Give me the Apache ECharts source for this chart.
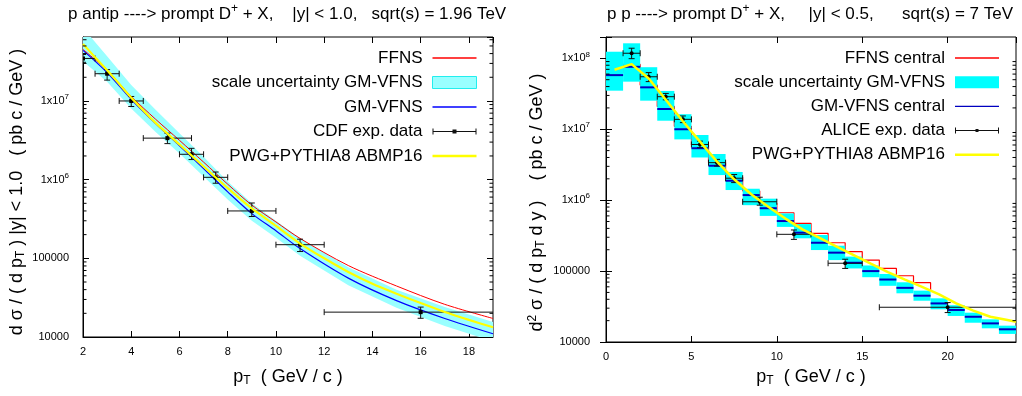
<!DOCTYPE html>
<html><head><meta charset="utf-8">
<script src="https://cdn.jsdelivr.net/npm/echarts@6.0.0/dist/echarts.min.js"></script>
<style>html,body{margin:0;padding:0;background:#fff}#c{width:1022px;height:396px}</style>
</head><body><div id="c"></div>
<script>
// ---------------- LEFT PANEL DATA (Tevatron, CDF) ----------------
const L_pt       = [2, 3, 4, 5, 6, 7, 8, 9, 10, 11, 13, 15, 17, 19];
const L_ffns     = [4.53e7, 2.44e7, 1.14e7, 5.9e6, 3.16e6, 1.67e6, 8.75e5, 4.75e5, 2.9e5, 1.79e5, 8.1e4, 4.45e4, 2.6e4, 1.72e4];
const L_gmvfns   = [4.4e7, 2.3e7, 1.05e7, 5.2e6, 2.7e6, 1.38e6, 7.0e5, 3.7e5, 2.24e5, 1.33e5, 5.6e4, 2.9e4, 1.72e4, 1.1e4];
const L_bandHi   = [8.5e7, 3.7e7, 1.6e7, 7.8e6, 3.9e6, 1.95e6, 9.5e5, 5.0e5, 3.0e5, 1.8e5, 7.7e4, 4.0e4, 2.4e4, 1.55e4];
const L_bandLo   = [3.2e7, 1.75e7, 8.0e6, 4.05e6, 2.15e6, 1.1e6, 5.6e5, 3.0e5, 1.82e5, 1.08e5, 4.55e4, 2.35e4, 1.38e4, 8.8e3];
const L_pwgPt    = [2, 2.5, 3, 3.5, 4, 5, 6, 7, 8, 9, 10, 11, 12, 13, 14, 15, 16, 17, 18, 19];
const L_pwg      = [5.3e7, 3.6e7, 2.45e7, 1.65e7, 1.1e7, 5.3e6, 2.8e6, 1.47e6, 7.8e5, 4.3e5, 2.58e5, 1.54e5, 1.0e5, 6.7e4, 4.75e4, 3.55e4, 2.7e4, 2.08e4, 1.65e4, 1.33e4];
const L_cdfPt    = [2, 3, 4, 5.5, 6.5, 7.5, 9, 11, 16];
const L_cdfVal   = [3.47e7, 2.22e7, 1.0e7, 3.37e6, 2.1e6, 1.07e6, 4.0e5, 1.49e5, 2.07e4];
const L_cdfXlo   = [1.5, 2.5, 3.5, 4.5, 6, 7, 8, 10, 12];
const L_cdfXhi   = [2.5, 3.5, 4.5, 6.5, 7, 8, 10, 12, 20];
const L_cdfYlo   = [3.1e7, 1.84e7, 8.5e6, 2.87e6, 1.8e6, 9.0e5, 3.4e5, 1.22e5, 1.73e4];
const L_cdfYhi   = [3.9e7, 2.5e7, 1.14e7, 3.9e6, 2.5e6, 1.25e6, 5.05e5, 1.75e5, 2.4e4];

// ---------------- RIGHT PANEL DATA (LHC 7 TeV, ALICE) ----------------
const R_edges    = [0,1,2,3,4,5,6,7,8,9,10,11,12,13,14,15,16,17,18,19,20,21,22,23,24];
const R_gmC      = [5.8e7, 7.6e7, 3.9e7, 1.93e7, 1.0e7, 5.4e6, 3.06e6, 1.88e6, 1.18e6, 7.7e5, 5.08e5, 3.48e5, 2.51e5, 1.82e5, 1.31e5, 1.0e5, 7.6e4, 5.8e4, 4.5e4, 3.5e4, 2.83e4, 2.27e4, 1.83e4, 1.51e4];
const R_gmHi     = [1.24e8, 1.63e8, 7.5e7, 3.47e7, 1.63e7, 8.3e6, 4.48e6, 2.5e6, 1.45e6, 1.05e6, 6.5e5, 4.6e5, 3.23e5, 2.28e5, 1.6e5, 1.2e5, 9.1e4, 6.95e4, 5.3e4, 4.13e4, 3.3e4, 2.59e4, 2.09e4, 1.7e4];
const R_gmLo     = [3.5e7, 4.69e7, 2.53e7, 1.32e7, 7.2e6, 4.0e6, 2.26e6, 1.39e6, 8.5e5, 6.0e5, 4.2e5, 2.9e5, 1.98e5, 1.43e5, 1.09e5, 8.2e4, 6.2e4, 4.86e4, 3.82e4, 2.89e4, 2.33e4, 1.87e4, 1.56e4, 1.3e4];
const R_ffns     = [6.3e7, 8.2e7, 4.2e7, 2.1e7, 1.1e7, 6.0e6, 3.4e6, 2.1e6, 1.35e6, 9.0e5, 6.65e5, 4.72e5, 3.41e5, 2.51e5, 1.88e5, 1.43e5, 1.09e5, 8.6e4, 6.86e4];
const R_ffnsEnd  = 5.4e4;
const R_pwgPt    = [0.5, 1.5, 2.5, 3.5, 4.5, 5.5, 6.5, 7.5, 8.5, 9.5, 10.5, 11.5, 12.5, 13.5, 14.5, 15.5, 16.5, 17.5, 18.5, 19.5, 20.5, 21.5, 22.5, 23.5, 24];
const R_pwg      = [6.9e7, 8.3e7, 5.2e7, 2.6e7, 1.3e7, 6.7e6, 3.5e6, 1.97e6, 1.21e6, 8.1e5, 5.5e5, 3.88e5, 2.93e5, 2.22e5, 1.68e5, 1.27e5, 9.7e4, 7.6e4, 6.0e4, 4.7e4, 3.5e4, 2.77e4, 2.27e4, 2.04e4, 1.93e4];
const R_alPt     = [1.5, 2.5, 3.5, 4.5, 5.5, 6.5, 7.5, 9, 11, 14, 20];
const R_alVal    = [1.18e8, 5.5e7, 2.88e7, 1.38e7, 6.1e6, 3.38e6, 2.04e6, 9.5e5, 3.3e5, 1.29e5, 3.09e4];
const R_alXlo    = [1, 2, 3, 4, 5, 6, 7, 8, 10, 13, 16];
const R_alXhi    = [2, 3, 4, 5, 6, 7, 8, 10, 12, 15, 24];
const R_alYlo    = [9.9e7, 4.7e7, 2.6e7, 1.24e7, 5.5e6, 3.03e6, 1.77e6, 8.5e5, 2.8e5, 1.09e5, 2.6e4];
const R_alYhi    = [1.39e8, 6.3e7, 3.2e7, 1.54e7, 6.8e6, 3.76e6, 2.3e6, 1.1e6, 3.8e5, 1.47e5, 3.6e4];

// ---------------- AXES ----------------
const L_X = {min: 2, max: 19, interval: 2};
const L_Y = {min: 1e4, max: 6.5e7};
const R_X = {min: 0, max: 24, interval: 5};
const R_Y = {min: 1e4, max: 2e8};

const FONT = '"Liberation Sans", Arial, Helvetica, sans-serif';
const TFONT = '"Liberation Sans Narrow", "Arial Narrow", "Liberation Sans", sans-serif';

const chart = echarts.init(document.getElementById('c'), null, {renderer: 'canvas'});

function logLabel(v) {
  const e = Math.log10(v), r = Math.round(e);
  if (Math.abs(e - r) > 1e-6) return '';
  if (r <= 5) return '{b|' + Math.round(Math.pow(10, r)) + '}';
  return '{b|1x10}{s|' + r + '}';
}
const tickRich = {
  b: {fontSize: 11, fontFamily: TFONT, color: '#000', lineHeight: 16},
  s: {fontSize: 8, fontFamily: TFONT, color: '#000', lineHeight: 8, verticalAlign: 'top'}
};
const nameRich = {
  n: {fontSize: 18, fontFamily: FONT, color: '#000', lineHeight: 20, fontWeight: 'normal'},
  s: {fontSize: 12, fontFamily: FONT, color: '#000', lineHeight: 12, verticalAlign: 'bottom', fontWeight: 'normal'},
  u: {fontSize: 12, fontFamily: FONT, color: '#000', lineHeight: 12, verticalAlign: 'top', fontWeight: 'normal'}
};
const titleRich = {
  t: {fontSize: 17, fontFamily: FONT, color: '#000', lineHeight: 22, fontWeight: 'normal'},
  u: {fontSize: 12, fontFamily: FONT, color: '#000', lineHeight: 12, verticalAlign: 'top', fontWeight: 'normal'}
};
const blackLine = {show: true, lineStyle: {color: '#000', width: 1}};

function xAxes(grid, R, name, gap) {
  return [
    {gridIndex: grid, type: 'value', min: R.min, max: R.max, interval: R.interval, position: 'bottom',
     axisLine: blackLine, splitLine: {show: false},
     axisTick: {show: true, inside: true, length: 6, lineStyle: {color: '#000'}},
     axisLabel: {show: true, color: '#000', fontSize: 11, fontFamily: TFONT, margin: 9, showMaxLabel: false},
     name: name, nameLocation: 'middle', nameGap: gap, nameMoveOverlap: false,
     nameTextStyle: {rich: nameRich, fontWeight: 'normal'}},
    {gridIndex: grid, type: 'value', min: R.min, max: R.max, interval: R.interval, position: 'top',
     axisLine: {show: false}, splitLine: {show: false},
     axisTick: {show: true, inside: true, length: 6, lineStyle: {color: '#000'}},
     axisLabel: {show: false}}
  ];
}
function yAxes(grid, R, name, gap, margin, shiftPad) {
  return [
    {gridIndex: grid, type: 'log', logBase: 10, min: R.min, max: R.max, position: 'left',
     axisLine: blackLine, splitLine: {show: false},
     axisTick: {show: true, inside: true, length: 6, lineStyle: {color: '#000'}},
     axisLabel: {show: true, formatter: logLabel, rich: tickRich, margin: margin},
     name: name, nameLocation: 'middle', nameGap: gap, nameRotate: 90, nameMoveOverlap: false,
     nameTextStyle: {rich: nameRich, fontWeight: 'normal', padding: [0, shiftPad, 0, 0]}},
    {gridIndex: grid, type: 'log', logBase: 10, min: R.min, max: R.max, position: 'right',
     axisLine: {show: false}, splitLine: {show: false},
     axisTick: {show: true, inside: true, length: 6, lineStyle: {color: '#000'}},
     axisLabel: {show: false}}
  ];
}

function minorTicks(xi, yi, X, Y) {
  const vals = [];
  for (let e = Math.floor(Math.log10(Y.min)); e < Math.log10(Y.max); e++)
    for (let m = 2; m < 10; m++) { const v = m * Math.pow(10, e); if (v > Y.min && v < Y.max) vals.push(v); }
  return {type: 'custom', xAxisIndex: xi, yAxisIndex: yi, silent: true, clip: false, z: 20,
    data: vals.map(v => [X.min, v]),
    renderItem(p, api) {
      const v = api.value(1);
      const a = api.coord([X.min, v]), b = api.coord([X.max, v]);
      return {type: 'group', children: [
        {type: 'line', shape: {x1: a[0], y1: a[1], x2: a[0] + 3.5, y2: a[1]}, style: {stroke: '#000', lineWidth: 1}},
        {type: 'line', shape: {x1: b[0], y1: b[1], x2: b[0] - 3.5, y2: b[1]}, style: {stroke: '#000', lineWidth: 1}}
      ]};
    }};
}

function errSeries(name, xi, yi, pt, val, xlo, xhi, ylo, yhi, marker) {
  return {type: 'custom', name: name, xAxisIndex: xi, yAxisIndex: yi, clip: true, z: 6, silent: true,
    itemStyle: {color: '#000'},
    data: pt.map((p, i) => [p, val[i], xlo[i], xhi[i], ylo[i], yhi[i]]),
    encode: {x: [0, 2, 3], y: [1, 4, 5]},
    renderItem(params, api) {
      const x = api.value(0), y = api.value(1);
      const c = api.coord([x, y]);
      const a = api.coord([api.value(2), y]), b = api.coord([api.value(3), y]);
      const t = api.coord([x, api.value(5)]), d = api.coord([x, api.value(4)]);
      const cap = 3, st = {stroke: '#111', lineWidth: 1};
      const ch = [
        {type: 'line', shape: {x1: a[0], y1: c[1], x2: b[0], y2: c[1]}, style: st},
        {type: 'line', shape: {x1: a[0], y1: c[1] - cap, x2: a[0], y2: c[1] + cap}, style: st},
        {type: 'line', shape: {x1: b[0], y1: c[1] - cap, x2: b[0], y2: c[1] + cap}, style: st},
        {type: 'line', shape: {x1: c[0], y1: t[1], x2: c[0], y2: d[1]}, style: st},
        {type: 'line', shape: {x1: c[0] - cap, y1: t[1], x2: c[0] + cap, y2: t[1]}, style: st},
        {type: 'line', shape: {x1: c[0] - cap, y1: d[1], x2: c[0] + cap, y2: d[1]}, style: st}
      ];
      if (marker === 'square') ch.push({type: 'rect', shape: {x: c[0] - 2, y: c[1] - 2, width: 4, height: 4}, style: {fill: '#000'}});
      else ch.push({type: 'circle', shape: {cx: c[0], cy: c[1], r: 2}, style: {fill: '#000'}});
      return {type: 'group', children: ch};
    }};
}

const LINE_ICON = 'path://M0,0H44V1.3H0Z';
const THICK_ICON = 'path://M0,0H44V2.4H0Z';
const ERR_SQ_ICON = 'path://M0,0H1V6H0Z M0,2.5H44V3.5H0Z M43,0H44V6H43Z M20,1H24V5H20Z';
const ERR_DOT_ICON = 'path://M0,0H1V6H0Z M0,2.5H44V3.5H0Z M43,0H44V6H43Z M20.5,1.5H23.5V4.5H20.5Z';

function legendCfg(right, gap, items) {
  return {orient: 'vertical', align: 'right', right: right, top: 49, padding: 0, itemGap: gap,
    itemWidth: 44, itemHeight: 12, selectedMode: false, symbolKeepAspect: true,
    textStyle: {fontSize: 17, fontFamily: FONT, color: '#000', lineHeight: 18, padding: [0, 5, 0, 0], fontWeight: 'normal'},
    data: items};
}

const option = {
  animation: false,
  backgroundColor: '#fff',
  title: [
    {text: '{t|p antip ----> prompt D}{u|+}{t| + X,    |y| < 1.0,   sqrt(s) = 1.96 TeV}', left: 68, top: 3, padding: 0,
     textStyle: {rich: titleRich, fontWeight: 'normal', fontSize: 17}},
    {text: '{t|p p ----> prompt D}{u|+}{t| + X,     |y| < 0.5,      sqrt(s) = 7 TeV}', left: 607, top: 3, padding: 0,
     textStyle: {rich: titleRich, fontWeight: 'normal', fontSize: 17}}
  ],
  grid: [
    {left: 83, top: 37, width: 410, height: 300, show: true, borderColor: '#000', borderWidth: 1, outerBoundsMode: 'none', containLabel: false},
    {left: 606, top: 37, width: 410, height: 305, show: true, borderColor: '#000', borderWidth: 1, outerBoundsMode: 'none', containLabel: false}
  ],
  xAxis: [
    ...xAxes(0, L_X, '{n|p}{s|T}{n|  ( GeV / c )}', 30),
    ...xAxes(1, R_X, '{n|p}{s|T}{n|  ( GeV / c )}', 25)
  ],
  yAxis: [
    ...yAxes(0, L_Y, '{n|d σ / ( d p}{s|T}{n| ) |y| < 1.0   ( pb c / GeV )}', 56, 14, 10),
    ...yAxes(1, R_Y, '{n|d}{u|2}{n| σ / ( d p}{s|T}{n| d y )    ( pb c / GeV )}', 59, 16, 26)
  ],
  legend: [
    legendCfg(545, 6.5, [
      {name: 'FFNS', icon: LINE_ICON, itemStyle: {color: '#ff0000', borderWidth: 0}},
      {name: 'scale uncertainty GM-VFNS', icon: 'rect', itemStyle: {color: '#99ffff', borderColor: '#22eeee', borderWidth: 1}},
      {name: 'GM-VFNS', icon: LINE_ICON, itemStyle: {color: '#0000ff', borderWidth: 0}},
      {name: 'CDF exp. data', icon: ERR_SQ_ICON, itemStyle: {color: '#111', borderWidth: 0}},
      {name: 'PWG+PYTHIA8 ABMP16', icon: THICK_ICON, itemStyle: {color: '#ffff00', borderWidth: 0}}
    ]),
    legendCfg(23, 6.2, [
      {name: 'FFNS central', icon: LINE_ICON, itemStyle: {color: '#ff0000', borderWidth: 0}},
      {name: 'scale uncertainty GM-VFNS', icon: 'rect', itemStyle: {color: '#00ffff', borderWidth: 0}},
      {name: 'GM-VFNS central', icon: LINE_ICON, itemStyle: {color: '#0000c0', borderWidth: 0}},
      {name: 'ALICE exp. data', icon: ERR_DOT_ICON, itemStyle: {color: '#111', borderWidth: 0}},
      {name: 'PWG+PYTHIA8 ABMP16', icon: THICK_ICON, itemStyle: {color: '#ffff00', borderWidth: 0}}
    ])
  ],
  series: [
    // ----- left -----
    {type: 'custom', name: 'scale uncertainty GM-VFNS', xAxisIndex: 0, yAxisIndex: 0, clip: true, z: 1, silent: true,
     itemStyle: {color: '#99ffff'},
     data: L_pt.map((p, i) => [p, L_bandHi[i], L_bandLo[i]]), encode: {x: 0, y: [1, 2]},
     renderItem(params, api) {
       if (params.dataIndex !== 0) return null;
       const up = L_pt.map((p, i) => api.coord([p, L_bandHi[i]]));
       const lo = L_pt.map((p, i) => api.coord([p, L_bandLo[i]])).reverse();
       return {type: 'polygon', shape: {points: up.concat(lo)}, style: {fill: '#99ffff'}};
     }},
    {type: 'line', name: 'FFNS', xAxisIndex: 0, yAxisIndex: 0, z: 2, silent: true, symbol: 'none', smooth: 0.3,
     data: L_pt.map((p, i) => [p, L_ffns[i]]), lineStyle: {color: '#ff0000', width: 1}, itemStyle: {color: '#ff0000'}},
    {type: 'line', name: 'GM-VFNS', xAxisIndex: 0, yAxisIndex: 0, z: 3, silent: true, symbol: 'none', smooth: 0.3,
     data: L_pt.map((p, i) => [p, L_gmvfns[i]]), lineStyle: {color: '#0000ff', width: 1.2}, itemStyle: {color: '#0000ff'}},
    errSeries('CDF exp. data', 0, 0, L_cdfPt, L_cdfVal, L_cdfXlo, L_cdfXhi, L_cdfYlo, L_cdfYhi, 'square'),
    {type: 'line', name: 'PWG+PYTHIA8 ABMP16', xAxisIndex: 0, yAxisIndex: 0, z: 7, silent: true, symbol: 'none', smooth: 0.2,
     data: L_pwgPt.map((p, i) => [p, L_pwg[i]]), lineStyle: {color: '#ffff00', width: 2.2}, itemStyle: {color: '#ffff00'}},
    minorTicks(0, 0, L_X, L_Y),

    // ----- right -----
    {type: 'line', name: 'FFNS central', xAxisIndex: 2, yAxisIndex: 2, z: 1, silent: true, symbol: 'none', step: 'end',
     data: R_ffns.map((v, i) => [R_edges[i], v]).concat([[R_edges[R_ffns.length], R_ffnsEnd]]),
     lineStyle: {color: '#ff0000', width: 1.2}, itemStyle: {color: '#ff0000'}},
    {type: 'custom', name: 'scale uncertainty GM-VFNS', xAxisIndex: 2, yAxisIndex: 2, clip: true, z: 2, silent: true,
     itemStyle: {color: '#00ffff'},
     data: R_gmHi.map((h, i) => [R_edges[i], R_edges[i + 1], R_gmLo[i], h]), encode: {x: [0, 1], y: [2, 3]},
     renderItem(params, api) {
       const a = api.coord([api.value(0), api.value(3)]), b = api.coord([api.value(1), api.value(2)]);
       return {type: 'rect', shape: {x: a[0], y: a[1], width: b[0] - a[0], height: b[1] - a[1]}, style: {fill: '#00ffff'}};
     }},
    {type: 'custom', name: 'GM-VFNS central', xAxisIndex: 2, yAxisIndex: 2, clip: true, z: 3, silent: true,
     itemStyle: {color: '#0000c0'},
     data: R_gmC.map((v, i) => [R_edges[i], R_edges[i + 1], v]), encode: {x: [0, 1], y: 2},
     renderItem(params, api) {
       const a = api.coord([api.value(0), api.value(2)]), b = api.coord([api.value(1), api.value(2)]);
       return {type: 'line', shape: {x1: a[0], y1: a[1], x2: b[0], y2: b[1]}, style: {stroke: '#0000c0', lineWidth: 2}};
     }},
    errSeries('ALICE exp. data', 2, 2, R_alPt, R_alVal, R_alXlo, R_alXhi, R_alYlo, R_alYhi, 'dot'),
    {type: 'line', name: 'PWG+PYTHIA8 ABMP16', xAxisIndex: 2, yAxisIndex: 2, z: 7, silent: true, symbol: 'none',
     data: R_pwgPt.map((p, i) => [p, R_pwg[i]]), lineStyle: {color: '#ffff00', width: 2.5}, itemStyle: {color: '#ffff00'}},
    minorTicks(2, 2, R_X, R_Y)
  ]
};
chart.setOption(option);
</script>
</body></html>
